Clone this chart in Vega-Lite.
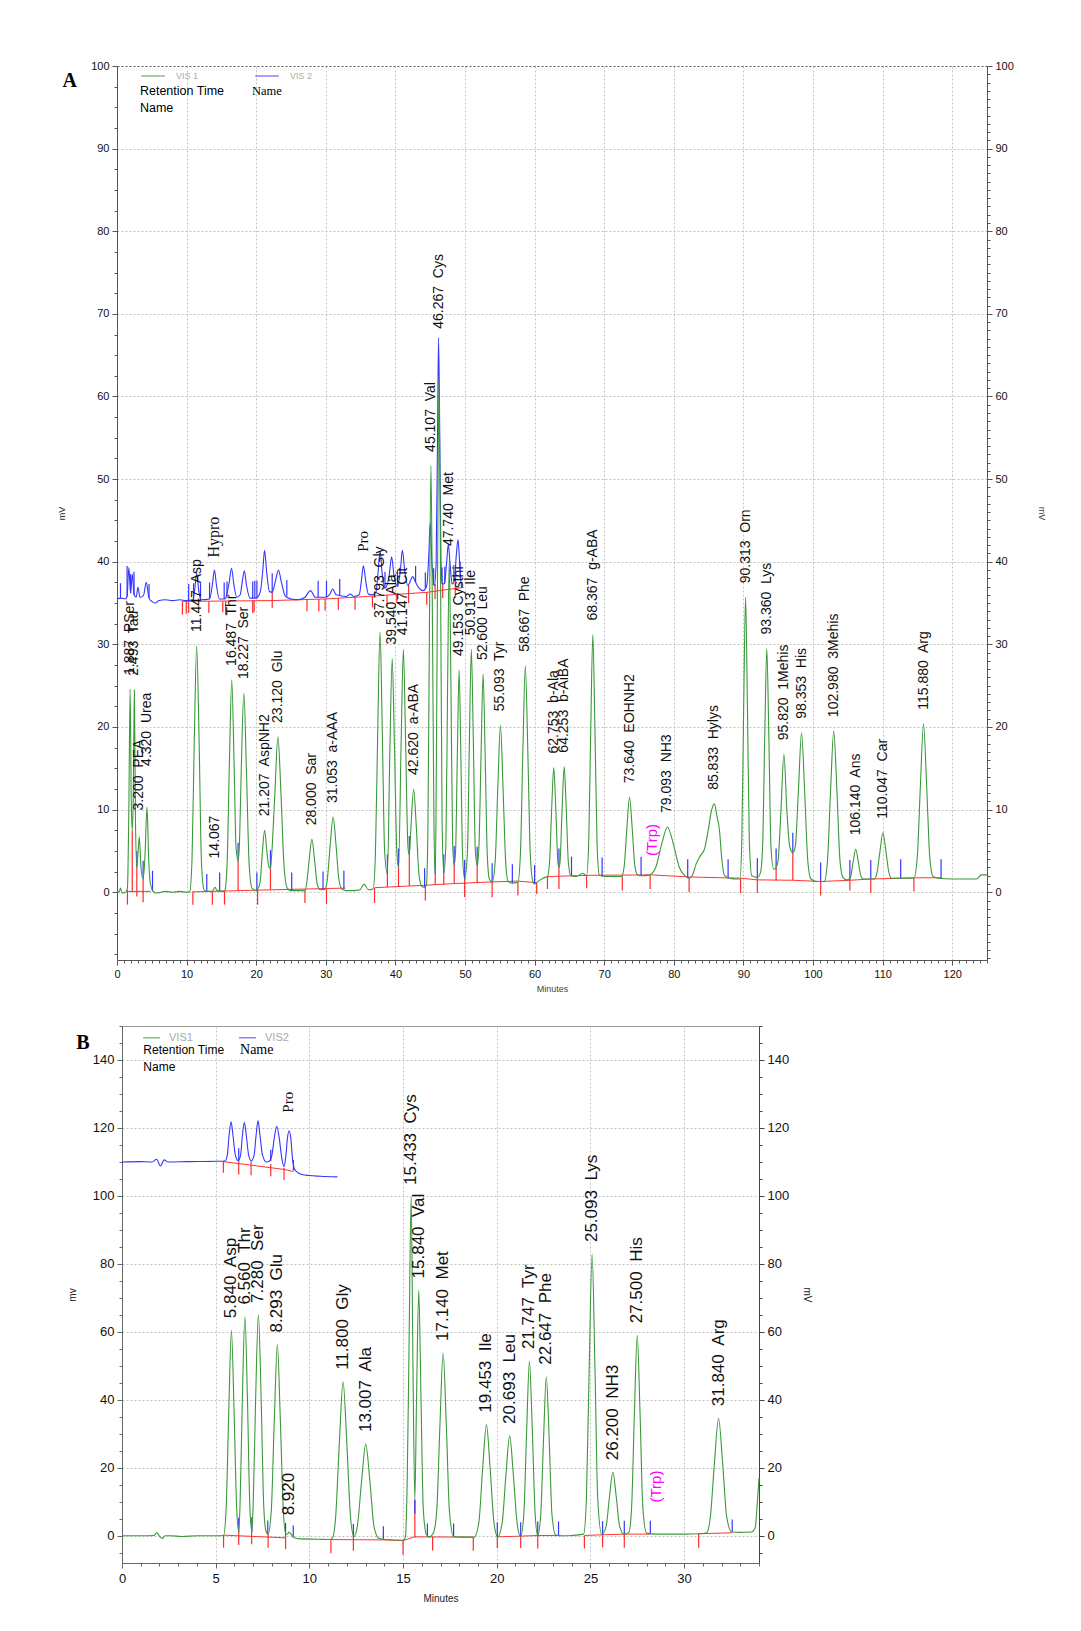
{
"$schema":"https://vega.github.io/schema/vega-lite/v6.json",
"padding":{"left":57,"top":60,"right":5,"bottom":5},
"background":"white",
"bounds":"flush",
"spacing":66,
"config":{"view":{"stroke":null},"font":"Liberation Sans"},
"resolve":{"scale":{"color":"independent"},"legend":{"color":"independent"}},
"datasets":{
"one":[{}],
"ag":[{"t":0,"v":0.1},{"t":0.3,"v":0},{"t":0.5,"v":0.5},{"t":0.75,"v":-0.1},{"t":1.2,"v":0},{"t":1.5,"v":0.5},{"t":1.7,"v":10},{"t":1.887,"v":24.6},{"t":2.05,"v":11},{"t":2.19,"v":7.5},{"t":2.33,"v":11},{"t":2.493,"v":24.5},{"t":2.65,"v":9},{"t":2.85,"v":3},{"t":3.0,"v":4.5},{"t":3.2,"v":6.7},{"t":3.45,"v":3.0},{"t":3.75,"v":1.6},{"t":4.0,"v":4.0},{"t":4.32,"v":10.3},{"t":4.55,"v":4.0},{"t":4.8,"v":1.0},{"t":5.2,"v":0.1},{"t":5.6,"v":-0.1},{"t":7,"v":0.1},{"t":8,"v":0},{"t":9,"v":0.1},{"t":10,"v":0},{"t":10.45,"v":0.1},{"t":10.78,"v":4},{"t":11.1,"v":18.2},{"t":11.447,"v":29.8},{"t":11.8,"v":18.2},{"t":12.12,"v":4},{"t":12.5,"v":0.3},{"t":12.9,"v":0.1},{"t":13.7,"v":0.1},{"t":14.067,"v":0.6},{"t":14.4,"v":0.2},{"t":15.4,"v":0.1},{"t":15.5,"v":0.2},{"t":15.82,"v":3.5},{"t":16.15,"v":15.7},{"t":16.487,"v":25.7},{"t":16.82,"v":15.7},{"t":17.1,"v":5.5},{"t":17.4,"v":3.8},{"t":17.6,"v":6},{"t":17.85,"v":14.7},{"t":18.227,"v":24.1},{"t":18.6,"v":14.7},{"t":18.99,"v":3.3},{"t":19.4,"v":0.5},{"t":20.0,"v":0.2},{"t":20.54,"v":1.1},{"t":20.87,"v":4.6},{"t":21.207,"v":7.5},{"t":21.55,"v":4.8},{"t":21.85,"v":3.0},{"t":22.05,"v":2.9},{"t":22.22,"v":4.5},{"t":22.67,"v":11.7},{"t":23.12,"v":18.8},{"t":23.57,"v":11.7},{"t":24.02,"v":2.9},{"t":24.47,"v":0.5},{"t":25,"v":0.2},{"t":27,"v":0.2},{"t":27.24,"v":1},{"t":27.62,"v":4},{"t":28,"v":6.4},{"t":28.38,"v":4},{"t":28.76,"v":1},{"t":29.2,"v":0.3},{"t":29.85,"v":0.35},{"t":30.21,"v":1.5},{"t":30.63,"v":5.7},{"t":31.053,"v":9.1},{"t":31.47,"v":5.7},{"t":31.89,"v":1.5},{"t":32.3,"v":0.4},{"t":33,"v":0.2},{"t":34,"v":0.2},{"t":34.9,"v":0.3},{"t":35.5,"v":1.0},{"t":36.1,"v":0.3},{"t":36.8,"v":0.4},{"t":37.13,"v":4.7},{"t":37.46,"v":19.4},{"t":37.793,"v":31.5},{"t":38.12,"v":19.4},{"t":38.45,"v":5},{"t":38.85,"v":2.2},{"t":39.21,"v":17.4},{"t":39.54,"v":28.3},{"t":39.87,"v":17.4},{"t":40.2,"v":5},{"t":40.45,"v":3},{"t":40.82,"v":18},{"t":41.147,"v":29.4},{"t":41.47,"v":18},{"t":41.8,"v":5.5},{"t":42.0,"v":4.5},{"t":42.24,"v":8},{"t":42.62,"v":12.5},{"t":43.0,"v":8},{"t":43.38,"v":2.2},{"t":43.8,"v":0.7},{"t":44.2,"v":0.6},{"t":44.45,"v":0.9},{"t":44.67,"v":7.5},{"t":44.89,"v":32},{"t":45.107,"v":51.6},{"t":45.33,"v":32},{"t":45.55,"v":7.5},{"t":45.72,"v":2.2},{"t":45.83,"v":8.5},{"t":46.05,"v":38},{"t":46.267,"v":62},{"t":46.49,"v":38},{"t":46.71,"v":8.5},{"t":46.95,"v":2.3},{"t":47.26,"v":6},{"t":47.5,"v":25},{"t":47.74,"v":40.2},{"t":47.98,"v":25},{"t":48.22,"v":6},{"t":48.45,"v":3.3},{"t":48.65,"v":5},{"t":48.9,"v":16.7},{"t":49.153,"v":26.9},{"t":49.4,"v":16.7},{"t":49.65,"v":4.5},{"t":49.95,"v":1.6},{"t":50.35,"v":4.8},{"t":50.63,"v":18.2},{"t":50.913,"v":29.4},{"t":51.2,"v":18.2},{"t":51.48,"v":5.2},{"t":51.75,"v":3.2},{"t":52.0,"v":5.5},{"t":52.3,"v":16.4},{"t":52.6,"v":26.4},{"t":52.9,"v":16.4},{"t":53.2,"v":4.5},{"t":53.5,"v":1.6},{"t":53.9,"v":1.2},{"t":54.33,"v":3.6},{"t":54.71,"v":12.5},{"t":55.093,"v":20.2},{"t":55.47,"v":12.5},{"t":55.85,"v":3.6},{"t":56.2,"v":1.3},{"t":56.8,"v":1.1},{"t":57.6,"v":1.2},{"t":57.97,"v":4.8},{"t":58.32,"v":17.3},{"t":58.667,"v":27.4},{"t":59.02,"v":17.3},{"t":59.37,"v":4.8},{"t":59.75,"v":1.3},{"t":60,"v":1.0},{"t":60.3,"v":1.2},{"t":60.8,"v":1.5},{"t":61.5,"v":1.8},{"t":61.85,"v":1.9},{"t":62.15,"v":3.7},{"t":62.45,"v":10},{"t":62.753,"v":15.1},{"t":63.05,"v":10},{"t":63.35,"v":3.6},{"t":63.5,"v":3.0},{"t":63.65,"v":3.6},{"t":63.95,"v":10},{"t":64.253,"v":15.2},{"t":64.55,"v":10},{"t":64.85,"v":3.6},{"t":65.2,"v":2.0},{"t":66,"v":1.9},{"t":66.9,"v":2.3},{"t":67.47,"v":2.0},{"t":67.77,"v":5.9},{"t":68.07,"v":19.8},{"t":68.367,"v":31.2},{"t":68.67,"v":19.8},{"t":68.97,"v":5.9},{"t":69.3,"v":2.1},{"t":70,"v":1.9},{"t":72.5,"v":1.9},{"t":72.88,"v":3.2},{"t":73.26,"v":7.8},{"t":73.64,"v":11.5},{"t":74.02,"v":7.8},{"t":74.4,"v":3.2},{"t":74.8,"v":2.1},{"t":75.5,"v":2.0},{"t":76.5,"v":2.1},{"t":77.4,"v":3.0},{"t":78.25,"v":5.8},{"t":79.093,"v":7.9},{"t":79.95,"v":5.8},{"t":80.8,"v":3.0},{"t":81.6,"v":2.0},{"t":82.2,"v":1.7},{"t":82.7,"v":2.1},{"t":83.2,"v":3.4},{"t":83.8,"v":4.4},{"t":84.4,"v":5.2},{"t":85.0,"v":7.8},{"t":85.45,"v":10.0},{"t":85.833,"v":10.7},{"t":86.2,"v":9.2},{"t":86.55,"v":7.6},{"t":86.9,"v":4.0},{"t":87.3,"v":2.0},{"t":88,"v":1.7},{"t":89,"v":1.6},{"t":89.5,"v":1.6},{"t":89.77,"v":6.2},{"t":90.04,"v":22.4},{"t":90.313,"v":35.7},{"t":90.58,"v":22.4},{"t":90.85,"v":6.2},{"t":91.2,"v":2.0},{"t":92.0,"v":1.8},{"t":92.46,"v":2.4},{"t":92.76,"v":5.5},{"t":93.06,"v":18.6},{"t":93.36,"v":29.5},{"t":93.66,"v":18.6},{"t":93.96,"v":5.5},{"t":94.35,"v":2.8},{"t":94.7,"v":3.0},{"t":94.98,"v":3.8},{"t":95.4,"v":10},{"t":95.82,"v":16.7},{"t":96.24,"v":10},{"t":96.66,"v":5.5},{"t":97.1,"v":4.8},{"t":97.45,"v":5.5},{"t":97.9,"v":12.2},{"t":98.353,"v":19.3},{"t":98.8,"v":12.2},{"t":99.25,"v":3.8},{"t":99.7,"v":1.6},{"t":100.5,"v":1.3},{"t":101.6,"v":1.3},{"t":102.08,"v":3.8},{"t":102.53,"v":12.4},{"t":102.98,"v":19.5},{"t":103.43,"v":12.4},{"t":103.88,"v":3.8},{"t":104.3,"v":1.8},{"t":104.8,"v":1.5},{"t":105.3,"v":1.6},{"t":105.44,"v":2.0},{"t":105.79,"v":3.8},{"t":106.14,"v":5.2},{"t":106.49,"v":3.8},{"t":106.84,"v":2.1},{"t":107.2,"v":1.6},{"t":108.2,"v":1.6},{"t":108.8,"v":1.6},{"t":109.2,"v":2.4},{"t":109.63,"v":5.0},{"t":110.047,"v":7.2},{"t":110.47,"v":5.0},{"t":110.9,"v":2.4},{"t":111.3,"v":1.7},{"t":112.5,"v":1.7},{"t":114.5,"v":1.7},{"t":114.98,"v":4.2},{"t":115.43,"v":12.9},{"t":115.88,"v":20.4},{"t":116.33,"v":12.9},{"t":116.78,"v":4.2},{"t":117.25,"v":1.9},{"t":118,"v":1.7},{"t":120,"v":1.6},{"t":123.5,"v":1.6},{"t":124.2,"v":2.1},{"t":125,"v":2.1}],
"ab":[{"t":0,"v":35.5},{"t":0.5,"v":35.6},{"t":1.2,"v":35.5},{"t":1.45,"v":35.8},{"t":1.7,"v":39.3},{"t":1.95,"v":36.2},{"t":2.2,"v":38.5},{"t":2.45,"v":36.0},{"t":2.75,"v":35.7},{"t":3.0,"v":36.9},{"t":3.3,"v":35.7},{"t":3.8,"v":35.9},{"t":4.2,"v":37.5},{"t":4.6,"v":35.6},{"t":5.0,"v":35.2},{"t":5.5,"v":35.0},{"t":6.0,"v":35.3},{"t":7,"v":35.4},{"t":8,"v":35.3},{"t":9,"v":35.4},{"t":10,"v":35.3},{"t":10.9,"v":35.4},{"t":11.15,"v":36.5},{"t":11.447,"v":38.6},{"t":11.75,"v":36.5},{"t":12.05,"v":35.4},{"t":13.3,"v":35.5},{"t":13.7,"v":37.2},{"t":14.0,"v":39.0},{"t":14.3,"v":37.1},{"t":14.7,"v":35.5},{"t":15.5,"v":35.5},{"t":16.1,"v":37.4},{"t":16.45,"v":39.2},{"t":16.8,"v":37.2},{"t":17.2,"v":35.7},{"t":17.7,"v":36.0},{"t":18.0,"v":37.6},{"t":18.3,"v":38.9},{"t":18.6,"v":37.2},{"t":19.1,"v":35.6},{"t":20.0,"v":35.6},{"t":20.6,"v":36.4},{"t":20.95,"v":39.0},{"t":21.2,"v":41.4},{"t":21.5,"v":38.8},{"t":21.9,"v":36.4},{"t":22.3,"v":36.3},{"t":22.8,"v":37.8},{"t":23.2,"v":39.0},{"t":23.6,"v":37.6},{"t":24.2,"v":35.8},{"t":25,"v":35.5},{"t":26,"v":35.4},{"t":27,"v":35.7},{"t":27.8,"v":36.5},{"t":28.5,"v":35.7},{"t":30,"v":35.7},{"t":30.6,"v":36.1},{"t":31.0,"v":36.7},{"t":31.5,"v":36.0},{"t":33,"v":35.8},{"t":33.5,"v":36.1},{"t":34,"v":35.8},{"t":34.8,"v":36.0},{"t":35.1,"v":37.6},{"t":35.4,"v":39.5},{"t":35.75,"v":37.6},{"t":36.1,"v":36.1},{"t":36.6,"v":36.0},{"t":37.2,"v":36.3},{"t":37.5,"v":38.6},{"t":37.8,"v":41.3},{"t":38.1,"v":38.6},{"t":38.5,"v":36.8},{"t":39.1,"v":38.3},{"t":39.45,"v":40.6},{"t":39.8,"v":38.3},{"t":40.3,"v":37.0},{"t":40.7,"v":38.8},{"t":41.0,"v":41.4},{"t":41.35,"v":38.8},{"t":41.8,"v":37.1},{"t":42.2,"v":37.8},{"t":42.5,"v":38.2},{"t":42.85,"v":37.6},{"t":43.4,"v":36.8},{"t":44.0,"v":36.5},{"t":44.5,"v":37.1},{"t":44.8,"v":40.8},{"t":45.0,"v":44.7},{"t":45.25,"v":39.8},{"t":45.6,"v":37.1},{"t":45.85,"v":39.8},{"t":46.05,"v":54.8},{"t":46.2,"v":67.1},{"t":46.38,"v":54.8},{"t":46.55,"v":39.8},{"t":46.8,"v":37.3},{"t":47.05,"v":37.4},{"t":47.35,"v":39.8},{"t":47.6,"v":42.1},{"t":47.85,"v":39.8},{"t":48.15,"v":37.3},{"t":48.5,"v":37.8},{"t":48.75,"v":40.8},{"t":49.0,"v":42.7},{"t":49.2,"v":40.3},{"t":49.4,"v":37.8},{"t":49.5,"v":37.0}],
"ar":[{"g":1,"t":1.5,"v":0.1},{"g":1,"t":4.8,"v":0.1},{"g":2,"t":10.9,"v":0.05},{"g":2,"t":20.2,"v":0.25},{"g":2,"t":30.1,"v":0.45},{"g":2,"t":32.8,"v":0.5},{"g":3,"t":37.0,"v":0.55},{"g":3,"t":44.3,"v":0.85},{"g":3,"t":48.5,"v":1.05},{"g":3,"t":53.9,"v":1.25},{"g":3,"t":57.6,"v":1.35},{"g":3,"t":60.3,"v":1.15},{"g":4,"t":61.85,"v":1.9},{"g":4,"t":68,"v":2.05},{"g":4,"t":76.8,"v":2.1},{"g":4,"t":82.2,"v":1.85},{"g":4,"t":89.6,"v":1.7},{"g":4,"t":92.0,"v":1.5},{"g":4,"t":97.2,"v":1.45},{"g":4,"t":101.1,"v":1.3},{"g":4,"t":105.3,"v":1.45},{"g":4,"t":108.3,"v":1.6},{"g":4,"t":114.5,"v":1.75},{"g":4,"t":118.4,"v":1.75},{"g":5,"t":9.4,"v":35.2},{"g":5,"t":22.3,"v":35.3},{"g":5,"t":30,"v":35.5},{"g":5,"t":36,"v":35.8},{"g":5,"t":44.5,"v":36.3},{"g":5,"t":49.8,"v":36.9}],
"art":[{"t":1.5,"a":0.3,"b":-1.5},{"t":2.19,"a":7.5,"b":0},{"t":2.85,"a":3,"b":-0.5},{"t":3.75,"a":1.6,"b":-1.2},{"t":10.9,"a":0.1,"b":-1.5},{"t":13.7,"a":0.1,"b":-1.5},{"t":15.45,"a":0.2,"b":-1.5},{"t":17.4,"a":3.8,"b":0.15},{"t":20.2,"a":0.3,"b":-1.5},{"t":22.05,"a":2.9,"b":0.3},{"t":27.0,"a":0.3,"b":-1.3},{"t":30.1,"a":0.4,"b":-1.4},{"t":37.0,"a":0.5,"b":-1.3},{"t":38.85,"a":2.2,"b":0.6},{"t":40.45,"a":3.0,"b":0.7},{"t":42.0,"a":4.5,"b":0.75},{"t":44.3,"a":0.8,"b":-1.0},{"t":45.72,"a":2.2,"b":0.9},{"t":46.95,"a":2.3,"b":0.95},{"t":48.45,"a":3.3,"b":1.0},{"t":49.95,"a":1.6,"b":-0.6},{"t":51.75,"a":3.2,"b":1.15},{"t":53.9,"a":1.2,"b":-0.6},{"t":57.6,"a":1.2,"b":-0.4},{"t":60.3,"a":1.2,"b":-0.2},{"t":61.85,"a":1.9,"b":0.4},{"t":63.5,"a":3.0,"b":0.4},{"t":67.47,"a":2.0,"b":0.5},{"t":72.6,"a":1.9,"b":0.2},{"t":76.6,"a":2.1,"b":0.4},{"t":82.2,"a":1.8,"b":0},{"t":89.6,"a":1.6,"b":-0.1},{"t":92.0,"a":1.8,"b":-0.1},{"t":94.7,"a":3.0,"b":1.4},{"t":97.1,"a":4.8,"b":1.45},{"t":101.1,"a":1.3,"b":-0.4},{"t":105.3,"a":1.6,"b":0.2},{"t":108.3,"a":1.6,"b":-0.1},{"t":114.5,"a":1.7,"b":0.1},{"t":9.4,"a":35.2,"b":33.6},{"t":9.95,"a":35.2,"b":33.7},{"t":10.3,"a":35.2,"b":33.8},{"t":13.2,"a":35.2,"b":33.8},{"t":15.2,"a":35.2,"b":33.9},{"t":15.6,"a":35.2,"b":33.6},{"t":19.5,"a":35.3,"b":33.8},{"t":19.7,"a":35.3,"b":33.9},{"t":22.3,"a":36.5,"b":34.4},{"t":27.3,"a":35.4,"b":34.0},{"t":29.0,"a":35.5,"b":34.0},{"t":29.9,"a":35.5,"b":34.1},{"t":31.8,"a":35.6,"b":34.2},{"t":34.2,"a":35.7,"b":34.2},{"t":36.7,"a":35.9,"b":34.5},{"t":38.8,"a":36.0,"b":34.6},{"t":40.2,"a":36.1,"b":35.0},{"t":41.9,"a":37.2,"b":35.0},{"t":44.5,"a":36.3,"b":34.8},{"t":45.7,"a":37.3,"b":35.5},{"t":46.8,"a":37.3,"b":35.6},{"t":48.6,"a":37.8,"b":35.8}],
"abt":[{"t":2.85,"a":3,"b":5},{"t":3.75,"a":1.6,"b":3.8},{"t":5.1,"a":0.1,"b":2.6},{"t":12.9,"a":0.1,"b":2.2},{"t":14.75,"a":0.2,"b":2.4},{"t":17.4,"a":3.8,"b":6.0},{"t":20.1,"a":0.2,"b":2.4},{"t":22.05,"a":2.9,"b":5.1},{"t":25.1,"a":0.2,"b":2.4},{"t":29.6,"a":0.35,"b":2.5},{"t":32.6,"a":0.4,"b":2.6},{"t":38.85,"a":2.2,"b":4.6},{"t":40.45,"a":3,"b":5.3},{"t":42.0,"a":4.5,"b":6.8},{"t":44.2,"a":0.6,"b":2.9},{"t":45.72,"a":2.2,"b":4.5},{"t":46.95,"a":2.3,"b":4.6},{"t":48.45,"a":3.3,"b":5.6},{"t":49.95,"a":1.6,"b":3.9},{"t":51.75,"a":3.2,"b":5.5},{"t":53.9,"a":1.2,"b":3.5},{"t":56.8,"a":1.1,"b":3.4},{"t":60.0,"a":1.0,"b":3.3},{"t":63.5,"a":3.0,"b":5.3},{"t":65.3,"a":2.0,"b":4.3},{"t":69.7,"a":1.9,"b":4.2},{"t":75.3,"a":2.0,"b":4.3},{"t":82.0,"a":1.7,"b":4.0},{"t":87.8,"a":1.7,"b":4.0},{"t":92.0,"a":1.8,"b":4.1},{"t":94.7,"a":3.0,"b":5.3},{"t":97.1,"a":4.8,"b":7.2},{"t":101.1,"a":1.3,"b":3.6},{"t":105.3,"a":1.6,"b":3.9},{"t":108.3,"a":1.6,"b":3.9},{"t":112.6,"a":1.7,"b":4.0},{"t":118.4,"a":1.7,"b":4.0},{"t":0.5,"a":35.6,"b":37.4},{"t":1.45,"a":35.8,"b":39.5},{"t":1.95,"a":36.2,"b":38.5},{"t":2.45,"a":36.0,"b":38.8},{"t":4.6,"a":35.6,"b":37.3},{"t":10.3,"a":35.3,"b":37.3},{"t":11.0,"a":35.4,"b":37.4},{"t":12.0,"a":35.4,"b":37.4},{"t":13.3,"a":35.5,"b":37.5},{"t":15.4,"a":35.5,"b":37.5},{"t":15.8,"a":35.6,"b":37.6},{"t":19.5,"a":35.6,"b":37.6},{"t":19.8,"a":35.6,"b":37.7},{"t":20.1,"a":35.6,"b":37.7},{"t":22.3,"a":36.3,"b":38.6},{"t":24.4,"a":35.8,"b":37.8},{"t":28.9,"a":35.7,"b":37.7},{"t":30.1,"a":35.7,"b":37.7},{"t":32.0,"a":35.9,"b":37.9},{"t":38.5,"a":36.8,"b":38.8},{"t":40.3,"a":37.0,"b":39.0},{"t":42.9,"a":37.5,"b":39.5},{"t":44.3,"a":36.7,"b":38.7},{"t":45.5,"a":37.2,"b":39.2},{"t":46.7,"a":37.3,"b":39.3},{"t":47.1,"a":37.4,"b":39.4},{"t":48.4,"a":37.6,"b":39.6},{"t":49.3,"a":38,"b":40}],
"al":[{"t":1.887,"h":24.6,"l":"1.887\u00a0 PSer"},{"t":2.493,"h":24.5,"l":"2.493\u00a0 Tau"},{"t":3.2,"h":8.2,"l":"3.200\u00a0 PEA"},{"t":4.32,"h":13.6,"l":"4.320\u00a0 Urea"},{"t":11.447,"h":29.8,"l":"11.447\u00a0 Asp"},{"t":14.067,"h":2.4,"l":"14.067"},{"t":16.487,"h":25.7,"l":"16.487\u00a0 Thr"},{"t":18.227,"h":24.1,"l":"18.227\u00a0 Ser"},{"t":21.207,"h":7.5,"l":"21.207\u00a0 AspNH2"},{"t":23.12,"h":18.8,"l":"23.120\u00a0 Glu"},{"t":28.0,"h":6.4,"l":"28.000\u00a0 Sar"},{"t":31.053,"h":9.1,"l":"31.053\u00a0 a-AAA"},{"t":37.793,"h":31.5,"l":"37.793\u00a0 Gly"},{"t":39.54,"h":28.3,"l":"39.540\u00a0 Ala"},{"t":41.147,"h":29.4,"l":"41.147\u00a0 Cit"},{"t":42.62,"h":12.5,"l":"42.620\u00a0 a-ABA"},{"t":45.107,"h":51.6,"l":"45.107\u00a0 Val"},{"t":46.267,"h":66.5,"l":"46.267\u00a0 Cys"},{"t":47.74,"h":40.2,"l":"47.740\u00a0 Met"},{"t":49.153,"h":26.9,"l":"49.153\u00a0 Cysthi"},{"t":50.913,"h":29.4,"l":"50.913\u00a0 Ile"},{"t":52.6,"h":26.4,"l":"52.600\u00a0 Leu"},{"t":55.093,"h":20.2,"l":"55.093\u00a0 Tyr"},{"t":58.667,"h":27.4,"l":"58.667\u00a0 Phe"},{"t":62.753,"h":15.1,"l":"62.753\u00a0 b-Ala"},{"t":64.253,"h":15.2,"l":"64.253\u00a0 b-AiBA"},{"t":68.367,"h":31.2,"l":"68.367\u00a0 g-ABA"},{"t":73.64,"h":11.5,"l":"73.640\u00a0 EOHNH2"},{"t":79.093,"h":7.9,"l":"79.093\u00a0 NH3"},{"t":85.833,"h":10.7,"l":"85.833\u00a0 Hylys"},{"t":90.313,"h":35.7,"l":"90.313\u00a0 Orn"},{"t":93.36,"h":29.5,"l":"93.360\u00a0 Lys"},{"t":95.82,"h":16.7,"l":"95.820\u00a0 1Mehis"},{"t":98.353,"h":19.3,"l":"98.353\u00a0 His"},{"t":102.98,"h":19.5,"l":"102.980\u00a0 3Mehis"},{"t":106.14,"h":5.2,"l":"106.140\u00a0 Ans"},{"t":110.047,"h":7.2,"l":"110.047\u00a0 Car"},{"t":115.88,"h":20.4,"l":"115.880\u00a0 Arg"}],
"bg":[{"t":0,"v":0},{"t":1.0,"v":0},{"t":1.7,"v":0.1},{"t":1.85,"v":0.9},{"t":2.0,"v":-0.1},{"t":2.15,"v":-0.8},{"t":2.3,"v":0},{"t":2.6,"v":0},{"t":3.2,"v":-0.2},{"t":4,"v":0},{"t":5,"v":0},{"t":5.42,"v":0.1},{"t":5.56,"v":8.2},{"t":5.7,"v":37},{"t":5.84,"v":60.5},{"t":5.98,"v":37},{"t":6.12,"v":8.2},{"t":6.23,"v":1.3},{"t":6.3,"v":9},{"t":6.42,"v":39.3},{"t":6.56,"v":64.5},{"t":6.7,"v":39.3},{"t":6.82,"v":9},{"t":6.93,"v":1.3},{"t":7.0,"v":9},{"t":7.13,"v":39.7},{"t":7.28,"v":65},{"t":7.43,"v":39.7},{"t":7.56,"v":9.5},{"t":7.68,"v":1.5},{"t":7.8,"v":0.5},{"t":7.97,"v":7.6},{"t":8.13,"v":34.3},{"t":8.293,"v":56.3},{"t":8.45,"v":34.3},{"t":8.61,"v":7.6},{"t":8.75,"v":0.4},{"t":8.85,"v":0.6},{"t":8.92,"v":1.1},{"t":9.05,"v":0.3},{"t":9.2,"v":-0.6},{"t":9.5,"v":-0.9},{"t":10.5,"v":-1.0},{"t":11.1,"v":-1.1},{"t":11.25,"v":-0.5},{"t":11.4,"v":5.3},{"t":11.6,"v":27.2},{"t":11.8,"v":45.3},{"t":12.0,"v":27.2},{"t":12.2,"v":5.3},{"t":12.38,"v":-0.2},{"t":12.56,"v":2.8},{"t":12.79,"v":16.2},{"t":13.007,"v":27},{"t":13.23,"v":16.2},{"t":13.45,"v":2.8},{"t":13.7,"v":-0.7},{"t":14.0,"v":-1.1},{"t":15.0,"v":-1.3},{"t":15.12,"v":-0.5},{"t":15.22,"v":15},{"t":15.32,"v":55},{"t":15.433,"v":99.7},{"t":15.53,"v":50},{"t":15.63,"v":10.5},{"t":15.72,"v":40},{"t":15.84,"v":72.2},{"t":15.96,"v":40},{"t":16.08,"v":8},{"t":16.25,"v":0.3},{"t":16.4,"v":-0.3},{"t":16.63,"v":1.0},{"t":16.8,"v":7.5},{"t":16.97,"v":32.6},{"t":17.14,"v":53.8},{"t":17.31,"v":32.6},{"t":17.48,"v":7},{"t":17.7,"v":-0.2},{"t":18.2,"v":-0.4},{"t":18.8,"v":-0.4},{"t":19.05,"v":4.1},{"t":19.25,"v":19.8},{"t":19.453,"v":32.7},{"t":19.65,"v":19.8},{"t":19.85,"v":4.1},{"t":20.05,"v":-0.3},{"t":20.29,"v":3.7},{"t":20.49,"v":17.8},{"t":20.693,"v":29.4},{"t":20.89,"v":17.8},{"t":21.09,"v":3.7},{"t":21.28,"v":-0.2},{"t":21.45,"v":6.6},{"t":21.6,"v":31.2},{"t":21.747,"v":51.4},{"t":21.9,"v":31.2},{"t":22.05,"v":6.6},{"t":22.19,"v":0},{"t":22.35,"v":6.2},{"t":22.5,"v":28.5},{"t":22.647,"v":46.8},{"t":22.8,"v":28.5},{"t":22.95,"v":6.2},{"t":23.15,"v":0.2},{"t":23.5,"v":0},{"t":24,"v":0.1},{"t":24.64,"v":0.5},{"t":24.79,"v":11.3},{"t":24.94,"v":50.5},{"t":25.093,"v":82.9},{"t":25.24,"v":50.5},{"t":25.39,"v":11.3},{"t":25.6,"v":0.4},{"t":25.84,"v":2.8},{"t":26.02,"v":11.5},{"t":26.2,"v":18.7},{"t":26.38,"v":11.5},{"t":26.56,"v":2.8},{"t":26.8,"v":0.5},{"t":27.05,"v":1.0},{"t":27.2,"v":8.3},{"t":27.35,"v":36.2},{"t":27.5,"v":59},{"t":27.65,"v":36.2},{"t":27.8,"v":8.3},{"t":28.0,"v":0.8},{"t":28.5,"v":0.5},{"t":30,"v":0.5},{"t":30.8,"v":0.6},{"t":31.2,"v":0.9},{"t":31.4,"v":5.4},{"t":31.62,"v":21.3},{"t":31.84,"v":34.6},{"t":32.06,"v":21.3},{"t":32.28,"v":5.4},{"t":32.55,"v":1.1},{"t":33.0,"v":1.0},{"t":33.6,"v":1.1},{"t":33.8,"v":2.5},{"t":33.9,"v":9},{"t":34.0,"v":17}],
"bb":[{"t":0,"v":110},{"t":1,"v":110.1},{"t":1.6,"v":110.0},{"t":1.85,"v":110.8},{"t":2.05,"v":108.8},{"t":2.25,"v":110.6},{"t":2.45,"v":110.0},{"t":3.5,"v":110.1},{"t":5.0,"v":110.2},{"t":5.5,"v":110.3},{"t":5.62,"v":112},{"t":5.72,"v":118},{"t":5.82,"v":121.8},{"t":5.92,"v":118},{"t":6.05,"v":112},{"t":6.2,"v":110.4},{"t":6.33,"v":112},{"t":6.43,"v":118},{"t":6.53,"v":121.6},{"t":6.63,"v":118},{"t":6.76,"v":112},{"t":6.9,"v":110.3},{"t":7.05,"v":112},{"t":7.16,"v":118},{"t":7.26,"v":122.1},{"t":7.36,"v":118},{"t":7.5,"v":112},{"t":7.7,"v":110.0},{"t":7.85,"v":110.2},{"t":8.0,"v":112},{"t":8.14,"v":117.5},{"t":8.26,"v":120.5},{"t":8.38,"v":117.5},{"t":8.52,"v":111.5},{"t":8.65,"v":108.6},{"t":8.75,"v":112},{"t":8.83,"v":117},{"t":8.92,"v":119.2},{"t":9.01,"v":117},{"t":9.1,"v":111},{"t":9.2,"v":108.0},{"t":9.35,"v":107.0},{"t":9.6,"v":106.3},{"t":10.0,"v":106.0},{"t":10.6,"v":105.8},{"t":11.5,"v":105.6}],
"br":[{"g":1,"t":5.42,"v":0.2},{"g":1,"t":8.75,"v":-0.6},{"g":2,"t":11.15,"v":-1.1},{"g":2,"t":13.95,"v":-1.2},{"g":2,"t":15.0,"v":-1.4},{"g":2,"t":15.63,"v":-0.3},{"g":2,"t":18.75,"v":-0.4},{"g":3,"t":20.03,"v":-0.3},{"g":3,"t":21.28,"v":-0.1},{"g":3,"t":22.19,"v":0.1},{"g":3,"t":23.3,"v":0.1},{"g":4,"t":24.68,"v":0.1},{"g":4,"t":25.65,"v":0.3},{"g":4,"t":26.81,"v":0.5},{"g":4,"t":28.2,"v":0.5},{"g":5,"t":30.78,"v":0.6},{"g":5,"t":32.57,"v":0.9},{"g":6,"t":5.41,"v":110.1},{"g":6,"t":8.65,"v":107.8},{"g":6,"t":9.15,"v":107.2}],
"brt":[{"t":5.42,"a":0.2,"b":-3.5},{"t":6.23,"a":1.5,"b":-2.7},{"t":6.92,"a":1.5,"b":-2.5},{"t":7.8,"a":0.5,"b":-3.5},{"t":8.73,"a":0.3,"b":-3.9},{"t":11.15,"a":-1.1,"b":-5.1},{"t":12.35,"a":-0.3,"b":-4.4},{"t":15.0,"a":-1.3,"b":-5.6},{"t":15.63,"a":10.5,"b":-0.5},{"t":16.58,"a":-0.3,"b":-4.3},{"t":18.75,"a":-0.4,"b":-4.4},{"t":20.03,"a":-0.3,"b":-3.6},{"t":21.28,"a":-0.2,"b":-3.6},{"t":22.19,"a":0,"b":-3.7},{"t":24.68,"a":0.1,"b":-3.7},{"t":25.65,"a":0.4,"b":-3.4},{"t":26.81,"a":0.5,"b":-3.5},{"t":30.78,"a":0.6,"b":-3.5},{"t":5.41,"a":110.1,"b":106.8},{"t":6.23,"a":110.4,"b":106.3},{"t":6.89,"a":110.1,"b":106.1},{"t":7.94,"a":109.4,"b":105.8},{"t":8.65,"a":108.2,"b":104.7}],
"bbt":[{"t":6.23,"a":1.2,"b":5.3},{"t":6.93,"a":1.2,"b":5.5},{"t":7.78,"a":0.5,"b":4.5},{"t":8.73,"a":0.3,"b":3.8},{"t":9.14,"a":-0.5,"b":3.0},{"t":12.35,"a":-0.3,"b":3.5},{"t":13.95,"a":-1.1,"b":2.8},{"t":15.63,"a":6.5,"b":10.6},{"t":16.3,"a":-0.2,"b":3.6},{"t":17.7,"a":-0.2,"b":3.6},{"t":20.03,"a":-0.3,"b":4},{"t":21.28,"a":-0.2,"b":4},{"t":22.19,"a":0,"b":4.2},{"t":23.3,"a":0.1,"b":4.2},{"t":25.65,"a":0.4,"b":4.3},{"t":26.81,"a":0.5,"b":4.4},{"t":28.2,"a":0.5,"b":4.4},{"t":32.57,"a":1.1,"b":4.8},{"t":6.23,"a":110.4,"b":114},{"t":7.94,"a":110.2,"b":113.6},{"t":9.15,"a":107.5,"b":110.6}],
"bl":[{"t":5.84,"h":60.5,"l":"5.840\u00a0 Asp"},{"t":6.56,"h":64.5,"l":"6.560\u00a0 Thr"},{"t":7.28,"h":65.0,"l":"7.280\u00a0 Ser"},{"t":8.293,"h":56.3,"l":"8.293\u00a0 Glu"},{"t":8.92,"h":2.5,"l":"8.920"},{"t":11.8,"h":45.3,"l":"11.800\u00a0 Gly"},{"t":13.007,"h":27,"l":"13.007\u00a0 Ala"},{"t":15.433,"h":99.7,"l":"15.433\u00a0 Cys"},{"t":15.84,"h":72.2,"l":"15.840\u00a0 Val"},{"t":17.14,"h":53.8,"l":"17.140\u00a0 Met"},{"t":19.453,"h":32.7,"l":"19.453\u00a0 Ile"},{"t":20.693,"h":29.4,"l":"20.693\u00a0 Leu"},{"t":21.747,"h":51.4,"l":"21.747\u00a0 Tyr"},{"t":22.647,"h":46.8,"l":"22.647\u00a0 Phe"},{"t":25.093,"h":82.9,"l":"25.093\u00a0 Lys"},{"t":26.2,"h":18.7,"l":"26.200\u00a0 NH3"},{"t":27.5,"h":59,"l":"27.500\u00a0 His"},{"t":31.84,"h":34.6,"l":"31.840\u00a0 Arg"}]
},
"vconcat":[
{
"width":870,"height":894,
"view":{"stroke":null},
"resolve":{"axis":{"x":"independent","y":"independent"}},
"layer":[
{"data":{"name":"ar"},"mark":{"type":"line","color":"#ff3333","strokeWidth":1},
 "encoding":{
  "x":{"field":"t","type":"quantitative","scale":{"domain":[0,125],"nice":false,"zero":false},
   "axis":{"orient":"bottom","values":[0,1,2,3,4,5,6,7,8,9,10,11,12,13,14,15,16,17,18,19,20,21,22,23,24,25,26,27,28,29,30,31,32,33,34,35,36,37,38,39,40,41,42,43,44,45,46,47,48,49,50,51,52,53,54,55,56,57,58,59,60,61,62,63,64,65,66,67,68,69,70,71,72,73,74,75,76,77,78,79,80,81,82,83,84,85,86,87,88,89,90,91,92,93,94,95,96,97,98,99,100,101,102,103,104,105,106,107,108,109,110,111,112,113,114,115,116,117,118,119,120,121,122,123,124,125],
    "labelExpr":"datum.value % 10 === 0 ? datum.label : ''","labelOverlap":false,"labelFlush":false,"labelBound":false,
    "tickSize":{"condition":{"test":"datum.value % 10 === 0","value":5},"value":3},
    "grid":true,"gridOpacity":{"condition":{"test":"datum.value % 10 === 0 && datum.value > 0","value":1},"value":0},
    "gridColor":"#c4c4c4","gridDash":[2,2],"domainColor":"#555","tickColor":"#555",
    "labelFontSize":11,"labelColor":"#111","labelPadding":3,"labelFont":"Liberation Sans",
    "title":"Minutes","titleFontSize":9,"titleFontWeight":"normal","titleColor":"#444","titlePadding":5,"titleFont":"Liberation Sans"}},
  "y":{"field":"v","type":"quantitative","scale":{"domain":[-8.2,100],"nice":false,"zero":false},
   "axis":{"orient":"left","values":[-7.5,-5,-2.5,0,2.5,5,7.5,10,12.5,15,17.5,20,22.5,25,27.5,30,32.5,35,37.5,40,42.5,45,47.5,50,52.5,55,57.5,60,62.5,65,67.5,70,72.5,75,77.5,80,82.5,85,87.5,90,92.5,95,97.5,100],
    "labelExpr":"datum.value % 10 === 0 ? datum.label : ''","labelOverlap":false,"labelFlush":false,"labelBound":false,
    "tickSize":{"condition":{"test":"datum.value % 10 === 0","value":5},"value":3},
    "grid":true,"gridOpacity":{"condition":{"test":"datum.value % 10 === 0","value":1},"value":0},
    "gridColor":{"condition":{"test":"datum.value === 100","value":"#555"},"value":"#c4c4c4"},"gridDash":[2,2],
    "domainColor":"#555","tickColor":"#555","labelFontSize":11,"labelColor":"#111","labelPadding":3,"labelFont":"Liberation Sans",
    "title":"mV","titleFontSize":9,"titleFontWeight":"normal","titleColor":"#333","titlePadding":24,"titleFont":"Liberation Sans"}},
  "detail":{"field":"g"}}},
{"data":{"name":"art"},"mark":{"type":"rule","color":"#ff2a2a","strokeWidth":1.2},
 "encoding":{"x":{"field":"t","type":"quantitative","axis":null},"y":{"field":"a","type":"quantitative",
  "axis":{"orient":"right","values":[-8,-7,-6,-5,-4,-3,-2,-1,0,1,2,3,4,5,6,7,8,9,10,11,12,13,14,15,16,17,18,19,20,21,22,23,24,25,26,27,28,29,30,31,32,33,34,35,36,37,38,39,40,41,42,43,44,45,46,47,48,49,50,51,52,53,54,55,56,57,58,59,60,61,62,63,64,65,66,67,68,69,70,71,72,73,74,75,76,77,78,79,80,81,82,83,84,85,86,87,88,89,90,91,92,93,94,95,96,97,98,99,100],
   "labelExpr":"datum.value % 10 === 0 ? datum.label : ''","labelOverlap":false,"labelFlush":false,"labelBound":false,
   "tickSize":{"condition":{"test":"datum.value % 10 === 0","value":5},"value":3},"grid":false,
   "domainColor":"#555","tickColor":"#555","labelFontSize":11,"labelColor":"#111","labelPadding":3,"labelFont":"Liberation Sans",
   "title":"mV","titleFontSize":9,"titleFontWeight":"normal","titleColor":"#333","titlePadding":23,"titleFont":"Liberation Sans"}},
  "y2":{"field":"b"}}},
{"data":{"name":"abt"},"mark":{"type":"rule","color":"#3535ff","strokeWidth":1.2},
 "encoding":{"x":{"field":"t","type":"quantitative","axis":null},"y":{"field":"a","type":"quantitative","axis":null},"y2":{"field":"b"}}},
{"data":{"name":"ab"},"mark":{"type":"line","interpolate":"monotone","strokeWidth":1.1},
 "encoding":{"x":{"field":"t","type":"quantitative","axis":null},"y":{"field":"v","type":"quantitative","axis":null},"color":{"datum":"VIS 2"}}},
{"data":{"name":"ag"},"mark":{"type":"line","interpolate":"monotone","strokeWidth":1.1},
 "encoding":{"x":{"field":"t","type":"quantitative","axis":null},"y":{"field":"v","type":"quantitative","axis":null},
  "color":{"datum":"VIS 1","scale":{"domain":["VIS 1","VIS 2"],"range":["#3a9a3a","#3535ff"]},
   "legend":{"orient":"none","legendX":23,"legendY":-3,"direction":"horizontal","title":null,"padding":0,"symbolType":"stroke","symbolSize":560,"symbolStrokeWidth":1.5,"symbolOpacity":0.6,"labelColor":"#aaaaaa","labelFontSize":9,"labelFont":"Liberation Sans","labelOffset":10,"columnPadding":53}}}},
{"data":{"name":"al"},"mark":{"type":"text","angle":270,"align":"left","baseline":"middle","dx":14,"fontSize":14,"font":"Liberation Sans","color":"#111"},
 "encoding":{"x":{"field":"t","type":"quantitative","axis":null},"y":{"field":"h","type":"quantitative","axis":null},"text":{"field":"l"}}},
{"data":{"name":"one"},"mark":{"type":"text","text":"Hypro","angle":270,"align":"left","baseline":"middle","fontSize":16,"font":"Liberation Serif","color":"#111"},
 "encoding":{"x":{"datum":14.0,"type":"quantitative","axis":null},"y":{"datum":40.5,"type":"quantitative","axis":null}}},
{"data":{"name":"one"},"mark":{"type":"text","text":"Pro","angle":270,"align":"left","baseline":"middle","fontSize":15,"font":"Liberation Serif","color":"#111"},
 "encoding":{"x":{"datum":35.4,"type":"quantitative","axis":null},"y":{"datum":41.2,"type":"quantitative","axis":null}}},
{"data":{"name":"one"},"mark":{"type":"text","text":"(Trp)","angle":270,"align":"left","baseline":"middle","fontSize":15,"font":"Liberation Sans","color":"#ff00ff"},
 "encoding":{"x":{"datum":76.9,"type":"quantitative","axis":null},"y":{"datum":4.4,"type":"quantitative","axis":null}}},
{"data":{"name":"one"},"mark":{"type":"text","text":"Retention Time","align":"left","baseline":"middle","fontSize":12.5,"font":"Liberation Sans","color":"#000"},
 "encoding":{"x":{"datum":3.3,"type":"quantitative","axis":null},"y":{"datum":97.0,"type":"quantitative","axis":null}}},
{"data":{"name":"one"},"mark":{"type":"text","text":"Name","align":"left","baseline":"middle","fontSize":12.5,"font":"Liberation Sans","color":"#000"},
 "encoding":{"x":{"datum":3.3,"type":"quantitative","axis":null},"y":{"datum":94.9,"type":"quantitative","axis":null}}},
{"data":{"name":"one"},"mark":{"type":"text","text":"Name","align":"left","baseline":"middle","fontSize":12.5,"font":"Liberation Serif","color":"#000"},
 "encoding":{"x":{"datum":19.4,"type":"quantitative","axis":null},"y":{"datum":97.0,"type":"quantitative","axis":null}}},
{"data":{"name":"one"},"mark":{"type":"text","text":"A","align":"center","baseline":"middle","fontSize":20,"fontWeight":"bold","font":"Liberation Serif","color":"#000"},
 "encoding":{"x":{"datum":-6.8,"type":"quantitative","axis":null},"y":{"datum":98.2,"type":"quantitative","axis":null}}}
]
},
{
"hconcat":[
{"width":1,"height":10,"data":{"name":"one"},"mark":{"type":"point","opacity":0},"encoding":{}},
{
"width":637,"height":537,
"view":{"stroke":"#9a9a9a"},
"resolve":{"axis":{"x":"independent","y":"independent"}},
"layer":[
{"data":{"name":"br"},"mark":{"type":"line","color":"#ff3333","strokeWidth":1},
 "encoding":{
  "x":{"field":"t","type":"quantitative","scale":{"domain":[0,34],"nice":false,"zero":false},
   "axis":{"orient":"bottom","values":[0,1,2,3,4,5,6,7,8,9,10,11,12,13,14,15,16,17,18,19,20,21,22,23,24,25,26,27,28,29,30,31,32,33,34],
    "labelExpr":"datum.value % 5 === 0 ? datum.label : ''","labelOverlap":false,"labelFlush":false,"labelBound":false,
    "tickSize":{"condition":{"test":"datum.value % 5 === 0","value":5},"value":3},
    "grid":true,"gridOpacity":{"condition":{"test":"datum.value % 5 === 0 && datum.value > 0","value":1},"value":0},
    "gridColor":"#c4c4c4","gridDash":[2,2],"domainColor":"#666","tickColor":"#666",
    "labelFontSize":13,"labelColor":"#111","labelPadding":4,"labelFont":"Liberation Sans",
    "title":"Minutes","titleFontSize":10,"titleFontWeight":"normal","titleColor":"#222","titlePadding":8,"titleFont":"Liberation Sans"}},
  "y":{"field":"v","type":"quantitative","scale":{"domain":[-8,150],"nice":false,"zero":false},
   "axis":{"orient":"left","values":[-5,0,5,10,15,20,25,30,35,40,45,50,55,60,65,70,75,80,85,90,95,100,105,110,115,120,125,130,135,140,145,150],
    "labelExpr":"datum.value % 20 === 0 ? datum.label : ''","labelOverlap":false,"labelFlush":false,"labelBound":false,
    "tickSize":{"condition":{"test":"datum.value % 20 === 0","value":5},"value":3},
    "grid":true,"gridOpacity":{"condition":{"test":"datum.value % 20 === 0","value":1},"value":0},
    "gridColor":"#c4c4c4","gridDash":[2,2],
    "domainColor":"#666","tickColor":"#666","labelFontSize":13,"labelColor":"#111","labelPadding":3,"labelFont":"Liberation Sans",
    "title":"mv","titleFontSize":10,"titleFontWeight":"normal","titleColor":"#222","titlePadding":15,"titleFont":"Liberation Sans"}},
  "detail":{"field":"g"}}},
{"data":{"name":"brt"},"mark":{"type":"rule","color":"#ff2a2a","strokeWidth":1.2},
 "encoding":{"x":{"field":"t","type":"quantitative","axis":null},"y":{"field":"a","type":"quantitative",
  "axis":{"orient":"right","values":[-5,0,5,10,15,20,25,30,35,40,45,50,55,60,65,70,75,80,85,90,95,100,105,110,115,120,125,130,135,140,145,150],
   "labelExpr":"datum.value % 20 === 0 ? datum.label : ''","labelOverlap":false,"labelFlush":false,"labelBound":false,
   "tickSize":{"condition":{"test":"datum.value % 20 === 0","value":5},"value":3},"grid":false,
   "domainColor":"#444","tickColor":"#444","labelFontSize":13,"labelColor":"#111","labelPadding":3,"labelFont":"Liberation Sans",
   "title":"mV","titleFontSize":10,"titleFontWeight":"normal","titleColor":"#222","titlePadding":13,"titleFont":"Liberation Sans"}},
  "y2":{"field":"b"}}},
{"data":{"name":"bbt"},"mark":{"type":"rule","color":"#3535ff","strokeWidth":1.2},
 "encoding":{"x":{"field":"t","type":"quantitative","axis":null},"y":{"field":"a","type":"quantitative","axis":null},"y2":{"field":"b"}}},
{"data":{"name":"bb"},"mark":{"type":"line","interpolate":"monotone","strokeWidth":1.1},
 "encoding":{"x":{"field":"t","type":"quantitative","axis":null},"y":{"field":"v","type":"quantitative","axis":null},"color":{"datum":"VIS2"}}},
{"data":{"name":"bg"},"mark":{"type":"line","interpolate":"monotone","strokeWidth":1.1},
 "encoding":{"x":{"field":"t","type":"quantitative","axis":null},"y":{"field":"v","type":"quantitative","axis":null},
  "color":{"datum":"VIS1","scale":{"domain":["VIS1","VIS2"],"range":["#3a9a3a","#3535ff"]},
   "legend":{"orient":"none","legendX":25,"legendY":2,"direction":"horizontal","title":null,"padding":0,"symbolType":"stroke","symbolSize":290,"symbolStrokeWidth":1.5,"symbolOpacity":0.6,"labelColor":"#aaaaaa","labelFontSize":11,"labelFont":"Liberation Sans","labelOffset":8,"columnPadding":42}}}},
{"data":{"name":"bl"},"mark":{"type":"text","angle":270,"align":"left","baseline":"middle","dx":12,"fontSize":17,"font":"Liberation Sans","color":"#111"},
 "encoding":{"x":{"field":"t","type":"quantitative","axis":null},"y":{"field":"h","type":"quantitative","axis":null},"text":{"field":"l"}}},
{"data":{"name":"one"},"mark":{"type":"text","text":"Pro","angle":270,"align":"left","baseline":"middle","fontSize":15,"font":"Liberation Serif","color":"#111"},
 "encoding":{"x":{"datum":8.85,"type":"quantitative","axis":null},"y":{"datum":124.5,"type":"quantitative","axis":null}}},
{"data":{"name":"one"},"mark":{"type":"text","text":"(Trp)","angle":270,"align":"left","baseline":"middle","fontSize":15,"font":"Liberation Sans","color":"#ff00ff"},
 "encoding":{"x":{"datum":28.5,"type":"quantitative","axis":null},"y":{"datum":9.8,"type":"quantitative","axis":null}}},
{"data":{"name":"one"},"mark":{"type":"text","text":"Retention Time","align":"left","baseline":"middle","fontSize":12,"font":"Liberation Sans","color":"#000"},
 "encoding":{"x":{"datum":1.14,"type":"quantitative","axis":null},"y":{"datum":143,"type":"quantitative","axis":null}}},
{"data":{"name":"one"},"mark":{"type":"text","text":"Name","align":"left","baseline":"middle","fontSize":12,"font":"Liberation Sans","color":"#000"},
 "encoding":{"x":{"datum":1.14,"type":"quantitative","axis":null},"y":{"datum":137.8,"type":"quantitative","axis":null}}},
{"data":{"name":"one"},"mark":{"type":"text","text":"Name","align":"left","baseline":"middle","fontSize":14,"font":"Liberation Serif","color":"#000"},
 "encoding":{"x":{"datum":6.3,"type":"quantitative","axis":null},"y":{"datum":143,"type":"quantitative","axis":null}}},
{"data":{"name":"one"},"mark":{"type":"text","text":"B","align":"center","baseline":"middle","fontSize":20,"fontWeight":"bold","font":"Liberation Serif","color":"#000"},
 "encoding":{"x":{"datum":-2.08,"type":"quantitative","axis":null},"y":{"datum":145.1,"type":"quantitative","axis":null}}}
]
}
],
"spacing":4,
"bounds":"flush"
}
]
}
